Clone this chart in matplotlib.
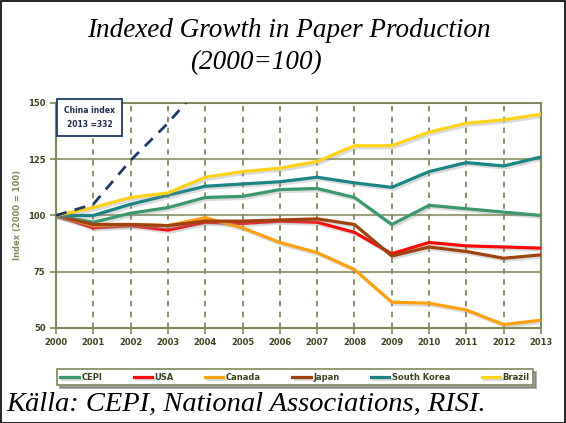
import matplotlib
matplotlib.use("Agg")
import matplotlib.pyplot as plt
import matplotlib.patheffects as pe

years = list(range(2000, 2014))
cepi = [100, 97, 101, 103.5, 108, 108.5, 111.5, 112, 108, 96, 104.5, 103, 101.5, 100]
usa = [100, 94.5, 95.5, 93.5, 97, 96.5, 97.5, 97, 92.5, 83, 88, 86.5, 86, 85.5]
canada = [100, 95.5, 96, 95.5, 99, 94.5, 88, 83.5, 76, 61.5, 61, 58, 51.5, 53.5]
japan = [100, 96, 96, 95.5, 97.5, 97.5, 98, 98.5, 96, 82, 86, 84, 81, 82.5]
korea = [100, 100, 105, 109, 113, 114, 115, 117, 114.5, 112.5, 119.5, 123.5, 122, 126]
brazil = [100, 103.5, 108, 110, 117, 119.5, 121, 124, 131, 131, 137, 141, 142.5, 145]
china = [100, 105, 124.5, 141, 160, 180, 205, 228, 248, 265, 285, 305, 320, 332]

names = ["CEPI", "USA", "Canada", "Japan", "South Korea", "Brazil"]
series = [cepi, usa, canada, japan, korea, brazil]
colors = ["#3a9a6e", "#ff0a0a", "#ffa010", "#a0420c", "#1a8585", "#ffd21a"]

olive = "#7d8c5a"
txt = "#3a4620"

fig = plt.figure(figsize=(5.66, 4.23), dpi=100)
ax = fig.add_axes([0.0989, 0.2246, 0.857, 0.532])

shadow = [pe.SimpleLineShadow(offset=(1.5, -1.5), shadow_color="#888888", alpha=0.3), pe.Normal()]
for name, vals, c in zip(names, series, colors):
    ax.plot(years, vals, color=c, lw=2.3, label=name, path_effects=shadow, zorder=3)
ax.plot(years, china, color="#1f3a64", lw=2.0, ls=(0, (4, 3)), zorder=3)

ax.set_xlim(2000, 2013)
ax.set_ylim(50, 150)
ax.set_xticks(years)
ax.set_yticks([50, 75, 100, 125, 150])
for y in [75, 100, 125]:
    ax.axhline(y, color="#9aa37c", lw=1.5, zorder=1)
for x in years[1:-1]:
    ax.axvline(x, color="#7d8a60", lw=1.3, ls=(0, (3, 3)), zorder=1)
for s in ax.spines.values():
    s.set_color(olive)
    s.set_linewidth(1.5)
ax.tick_params(colors=olive, length=4, width=1.2, labelcolor=txt, labelsize=6)
for lab in ax.get_xticklabels() + ax.get_yticklabels():
    lab.set_fontweight("bold")
ax.set_ylabel("Index (2000 = 100)", fontsize=6, fontweight="bold", color=olive)

ax.text(2000.9, 143.5, "China index\n2013 =332", fontsize=5.5, fontweight="bold",
        color="#1f2f50", ha="center", va="center", linespacing=1.8,
        bbox=dict(boxstyle="square,pad=0.9", fc="white", ec="#1f3a64", lw=1.3), zorder=5)

leg = fig.legend(loc="center", ncol=6, mode="expand", bbox_to_anchor=(0.1007, 0.085, 0.841, 0.047),
                 fontsize=6, frameon=True, fancybox=False, shadow=True, handlelength=2.2,
                 borderaxespad=0, handletextpad=0.3)
leg.get_frame().set_edgecolor(olive)
leg.get_frame().set_linewidth(1.2)
for t in leg.get_texts():
    t.set_fontweight("bold")
    t.set_color(txt)

serif = ["Liberation Serif", "DejaVu Serif"]
fig.text(0.511, 0.929, "Indexed Growth in Paper Production", family=serif, style="italic",
         fontsize=19.5, ha="center", va="center")
fig.text(0.452, 0.851, "(2000=100)", family=serif, style="italic", fontsize=19.5, ha="center", va="center")
fig.text(0.012, 0.043, "Källa: CEPI, National Associations, RISI.", family=serif, style="italic",
         fontsize=20.5, ha="left", va="center")

fig.patches.append(plt.Rectangle((0.001, 0.001), 0.997, 0.997, transform=fig.transFigure,
                                 fill=False, ec="black", lw=1.2))

fig.savefig("out.png", dpi=100)
